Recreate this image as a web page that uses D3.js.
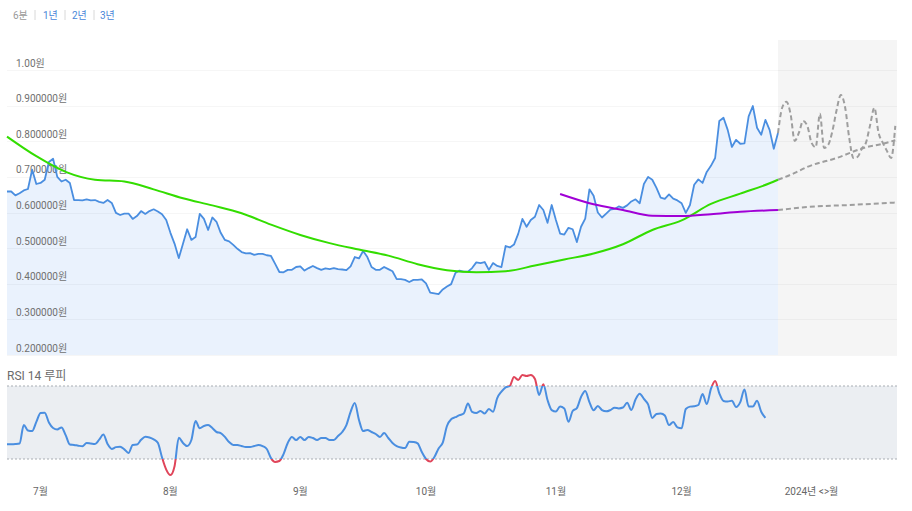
<!DOCTYPE html>
<html><head><meta charset="utf-8">
<script src="https://cdn.jsdelivr.net/npm/d3@7"></script>
<style>body{margin:0;background:#fff;font-family:Roboto,"Noto Sans CJK KR",sans-serif}</style>
</head><body><svg id="c" width="912" height="511"></svg>
<script>
// ---------- DATA ----------
const periodTabs = ["6분", "1년", "2년", "3년"];
const startDate = "2023-06-23";           // daily series start
const priceValues = [
0.659,0.659,0.648,0.654,0.662,0.666,0.720,0.680,0.683,0.692,
0.742,0.751,0.700,0.687,0.692,0.683,0.635,0.635,0.634,0.637,
0.634,0.635,0.630,0.627,0.635,0.627,0.599,0.593,0.597,0.597,
0.582,0.590,0.604,0.596,0.604,0.609,0.603,0.595,0.579,0.543,
0.512,0.472,0.512,0.553,0.523,0.531,0.596,0.582,0.551,0.586,
0.574,0.543,0.523,0.519,0.509,0.498,0.489,0.485,0.486,0.481,
0.484,0.484,0.480,0.478,0.456,0.433,0.432,0.439,0.439,0.447,
0.449,0.437,0.444,0.450,0.444,0.439,0.443,0.441,0.444,0.441,
0.440,0.438,0.449,0.475,0.471,0.492,0.475,0.447,0.439,0.439,
0.447,0.441,0.435,0.413,0.413,0.411,0.405,0.411,0.411,0.412,
0.401,0.375,0.373,0.371,0.384,0.392,0.399,0.430,0.437,0.434,
0.434,0.444,0.460,0.458,0.461,0.439,0.458,0.450,0.447,0.506,
0.502,0.510,0.540,0.582,0.560,0.579,0.588,0.621,0.607,0.571,
0.621,0.579,0.541,0.538,0.557,0.553,0.517,0.560,0.583,0.665,
0.647,0.600,0.586,0.597,0.608,0.610,0.617,0.613,0.620,0.631,
0.637,0.626,0.680,0.700,0.692,0.669,0.642,0.638,0.651,0.639,
0.634,0.626,0.599,0.621,0.678,0.693,0.683,0.714,0.731,0.753,
0.857,0.866,0.832,0.784,0.804,0.793,0.794,0.870,0.899,0.838,
0.818,0.860,0.832,0.779,0.823];
const rsiValues = [
38.1,38.1,38.2,38.5,48.6,45.6,45.3,50.3,55.2,55.4,
50.0,47.0,46.2,47.3,43.1,37.9,37.7,37.3,37.0,38.8,
38.5,38.2,40.6,43.4,38.2,35.5,36.5,36.7,35.3,33.3,
37.7,37.9,40.5,42.2,41.8,40.8,38.9,30.8,24.2,21.2,
26.2,41.6,38.8,37.1,40.4,50.8,46.8,48.1,48.6,47.0,
44.8,44.2,42.1,39.3,37.7,37.7,37.1,36.6,36.6,37.1,
37.7,37.1,35.5,30.5,28.4,28.9,32.7,38.8,42.1,40.4,
42.1,40.4,42.1,41.5,40.4,41.5,41.5,40.4,40.4,42.6,
44.8,48.6,55.8,60.7,51.4,45.3,45.9,44.8,43.7,42.1,
44.2,41.5,38.8,37.1,36.3,36.0,39.5,39.3,38.6,33.8,
30.0,28.6,31.1,35.8,39.0,48.1,51.8,52.9,54.0,54.9,
60.4,55.8,55.2,56.3,54.9,57.4,55.9,63.4,66.9,69.3,
70.0,74.9,73.3,76.0,75.5,76.0,73.8,65.1,71.0,62.3,
56.8,56.0,58.7,57.7,50.4,56.3,57.9,64.0,67.3,61.2,
56.7,59.0,56.8,56.1,56.8,58.1,57.7,58.2,60.8,56.8,
62.6,65.8,62.9,59.9,52.5,54.7,55.0,53.8,48.6,50.3,
47.3,46.8,57.4,58.7,58.9,59.6,65.6,60.1,68.4,72.7,
66.0,61.8,61.5,61.9,58.5,61.2,68.1,58.7,58.7,61.9,
55.9,52.5];
const maDates = ["2023-06-23","2023-06-30","2023-07-07","2023-07-14","2023-07-21","2023-07-28",
"2023-08-04","2023-08-11","2023-08-18","2023-08-25","2023-09-01","2023-09-08","2023-09-15",
"2023-09-22","2023-09-29","2023-10-06","2023-10-13","2023-10-20","2023-10-27","2023-11-03",
"2023-11-10","2023-11-17","2023-11-24","2023-12-01","2023-12-08","2023-12-15","2023-12-22","2023-12-24"];
const maValues = [0.813,0.758,0.714,0.692,0.687,0.665,0.640,0.620,0.598,0.566,0.537,0.514,0.496,
0.479,0.455,0.438,0.432,0.435,0.451,0.468,0.485,0.511,0.551,0.578,0.624,0.653,0.682,0.692];
const ma2Dates = ["2023-11-02","2023-11-10","2023-11-17","2023-11-24","2023-12-01","2023-12-08","2023-12-15","2023-12-24"];
const ma2Values = [0.652,0.623,0.607,0.591,0.590,0.595,0.602,0.607];
const fcStart = "2023-12-24";             // daily forecast start
const fcPriceValues = [0.823,0.894,0.911,0.877,0.801,0.824,0.857,0.843,0.796,0.783,
0.877,0.781,0.790,0.829,0.888,0.930,0.897,0.810,0.753,0.756,0.779,0.796,0.846,0.894,
0.824,0.796,0.773,0.753,0.843];
const fcMaDates = ["2023-12-24","2023-12-28","2023-12-31","2024-01-07","2024-01-14","2024-01-18","2024-01-21"];
const fcMaValues = [0.692,0.711,0.728,0.753,0.783,0.793,0.803];
const fcMa2Dates = ["2023-12-24","2024-01-02","2024-01-10","2024-01-18","2024-01-21"];
const fcMa2Values = [0.607,0.617,0.621,0.626,0.628];
const yTicks = [0.2,0.3,0.4,0.5,0.6,0.7,0.8,0.9,1.0];
const yTickLabels = ["0.200000원","0.300000원","0.400000원","0.500000원","0.600000원","0.700000원","0.800000원","0.900000원","1.00원"];
const monthTicks = ["2023-07-01","2023-08-01","2023-09-01","2023-10-01","2023-11-01","2023-12-01","2024-01-01"];
const monthLabels = ["7월","8월","9월","10월","11월","12월","2024년 <>월"];
const rsiLevels = [30, 70];
const rsiTitle = "RSI 14 루피";

// ---------- HELPERS ----------
const parse = d3.timeParse("%Y-%m-%d");
const dayAfter = (s, i) => d3.timeDay.offset(parse(s), i);
const price = priceValues.map((v, i) => ({d: dayAfter(startDate, i), v}));
const rsi = rsiValues.map((v, i) => ({d: dayAfter(startDate, i), v}));
const ma = maDates.map((s, i) => ({d: parse(s), v: maValues[i]}));
const ma2 = ma2Dates.map((s, i) => ({d: parse(s), v: ma2Values[i]}));
const fcP = fcPriceValues.map((v, i) => ({d: dayAfter(fcStart, i), v}));
const fcM = fcMaDates.map((s, i) => ({d: parse(s), v: fcMaValues[i]}));
const fcM2 = fcMa2Dates.map((s, i) => ({d: parse(s), v: fcMa2Values[i]}));

// ---------- LAYOUT ----------
const L = 7, R = 897;
const svg = d3.select("#c");
const x = d3.scaleTime().domain([parse("2023-06-23"), parse("2024-01-21")]).range([L, 895.3]);
const y = d3.scaleLinear().domain([0.2, 1.0]).range([355, 70]);
const yR = d3.scaleLinear().domain([30, 70]).range([459, 386]);

// tabs
const tabX = [13, 43, 72, 100];
periodTabs.forEach((t, i) => {
  svg.append("text").attr("x", tabX[i]).attr("y", 19).attr("font-size", 10)
    .attr("fill", i === 0 ? "#9a9a9a" : "#4a86d8").text(t);
  if (i < periodTabs.length - 1)
    svg.append("line").attr("x1", tabX[i] + 22).attr("x2", tabX[i] + 22).attr("y1", 10).attr("y2", 20)
      .attr("stroke", "#d8d8d8");
});

// forecast background
const xLast = x(price[price.length - 1].d);
svg.append("rect").attr("x", xLast).attr("y", 40).attr("width", R - xLast).attr("height", 355 - 40).attr("fill", "#f5f5f5");

// area under price
svg.append("path").datum(price)
  .attr("d", d3.area().x(d => x(d.d)).y0(y(0.2)).y1(d => y(d.v)))
  .attr("fill", "#eaf2fd");

// grid
svg.append("g").selectAll("line").data(yTicks).join("line")
  .attr("x1", L).attr("x2", R).attr("y1", d => Math.round(y(d)) + 0.5).attr("y2", d => Math.round(y(d)) + 0.5)
  .attr("stroke", "#000").attr("stroke-opacity", 0.035);

// y labels
svg.append("g").selectAll("text").data(yTicks).join("text")
  .attr("x", 16).attr("y", d => y(d) - 3.5).attr("font-size", 10).attr("fill", "#707070")
  .text((d, i) => yTickLabels[i]);

const line = d3.line().x(d => x(d.d)).y(d => y(d.v));
// price
svg.append("path").datum(price).attr("d", line).attr("fill", "none")
  .attr("stroke", "#4a8ee0").attr("stroke-width", 1.8).attr("stroke-linejoin", "round");
// forecasts
const dashed = (data, curve) => svg.append("path").datum(data)
  .attr("d", d3.line().x(d => x(d.d)).y(d => y(d.v)).curve(curve))
  .attr("fill", "none").attr("stroke", "#9e9e9e").attr("stroke-width", 2).attr("stroke-dasharray", "5,3");
dashed(fcP, d3.curveMonotoneX);
dashed(fcM, d3.curveMonotoneX);
dashed(fcM2, d3.curveMonotoneX);
// moving averages
svg.append("path").datum(ma).attr("d", d3.line().x(d => x(d.d)).y(d => y(d.v)).curve(d3.curveMonotoneX))
  .attr("fill", "none").attr("stroke", "#33dd00").attr("stroke-width", 2);
svg.append("path").datum(ma2).attr("d", d3.line().x(d => x(d.d)).y(d => y(d.v)).curve(d3.curveMonotoneX))
  .attr("fill", "none").attr("stroke", "#a000d6").attr("stroke-width", 2);

// ---------- RSI ----------
svg.append("text").attr("x", L).attr("y", 380).attr("font-size", 12).attr("fill", "#6b6b6b").text(rsiTitle);
svg.append("rect").attr("x", L).attr("y", yR(70)).attr("width", R - L).attr("height", yR(30) - yR(70)).attr("fill", "#ebeef2");
svg.append("g").selectAll("line").data(rsiLevels).join("line")
  .attr("x1", L).attr("x2", R).attr("y1", d => yR(d)).attr("y2", d => yR(d))
  .attr("stroke", "#a8adb3").attr("stroke-dasharray", "2,2");

const defs = svg.append("defs");
defs.append("clipPath").attr("id", "inBand").append("rect")
  .attr("x", 0).attr("y", yR(70)).attr("width", 912).attr("height", yR(30) - yR(70));
const out = defs.append("clipPath").attr("id", "outBand");
out.append("rect").attr("x", 0).attr("y", 0).attr("width", 912).attr("height", yR(70));
out.append("rect").attr("x", 0).attr("y", yR(30)).attr("width", 912).attr("height", 511 - yR(30));
const rsiLine = d3.line().x(d => x(d.d)).y(d => yR(d.v)).curve(d3.curveMonotoneX);
svg.append("path").datum(rsi).attr("d", rsiLine).attr("clip-path", "url(#inBand)")
  .attr("fill", "none").attr("stroke", "#4a8ee0").attr("stroke-width", 2);
svg.append("path").datum(rsi).attr("d", rsiLine).attr("clip-path", "url(#outBand)")
  .attr("fill", "none").attr("stroke", "#e0455a").attr("stroke-width", 2);

// x labels
svg.append("g").selectAll("text").data(monthTicks).join("text")
  .attr("x", d => x(parse(d))).attr("y", 495).attr("text-anchor", "middle")
  .attr("font-size", 10).attr("fill", "#666").text((d, i) => monthLabels[i]);
</script></body></html>
